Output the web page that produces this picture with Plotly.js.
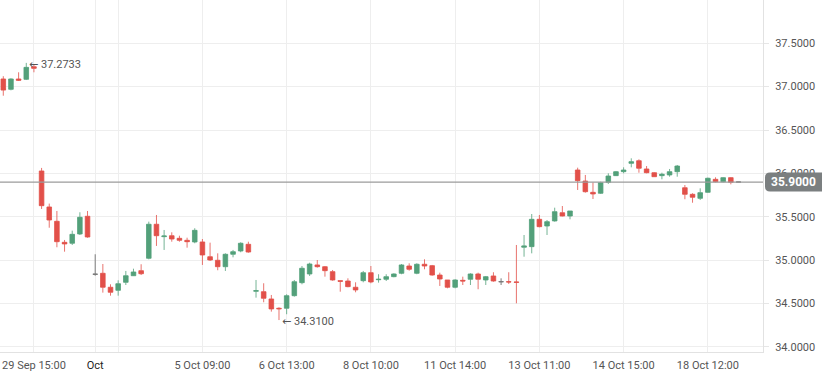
<!DOCTYPE html>
<html>
<head>
<meta charset="utf-8">
<script src="https://cdn.plot.ly/plotly-3.0.1.min.js"></script>
<style>
html,body{margin:0;padding:0;background:#fff;}
#chart{width:822px;height:374px;}
</style>
</head>
<body>
<div id="chart"></div>
<script>
// OHLC values, one per bar (bar index 0..96)
var opens = [37.088,36.969,37.088,37.084,37.229,36.028,35.613,35.448,35.206,35.195,
35.302,35.506,34.838,34.849,34.688,34.653,34.745,34.821,34.879,35.022,
35.414,35.271,35.282,35.252,35.229,35.210,35.210,35.040,34.999,34.925,
35.068,35.106,35.183,34.642,34.637,34.553,34.446,34.446,34.591,34.741,
34.841,34.945,34.925,34.868,34.764,34.760,34.688,34.764,34.856,34.775,
34.780,34.810,34.849,34.933,34.849,34.953,34.937,34.829,34.772,34.688,
34.768,34.780,34.841,34.772,34.818,34.752,34.752,34.749,35.149,35.156,
35.471,35.394,35.452,35.547,35.509,36.039,35.912,35.782,35.771,35.897,
35.974,36.020,36.116,36.146,36.051,36.008,35.974,35.982,36.020,35.835,
35.759,35.713,35.782,35.932,35.904,35.951,35.900];
var highs = [37.120,37.096,37.165,37.2733,37.249,36.063,35.652,35.567,35.233,35.340,
35.552,35.567,35.068,34.956,34.722,34.768,34.876,34.902,34.953,35.444,
35.521,35.348,35.321,35.282,35.259,35.368,35.244,35.202,35.079,35.079,
35.118,35.206,35.213,34.772,34.734,34.599,34.457,34.607,34.772,34.933,
34.971,35.002,34.933,34.887,34.764,34.791,34.745,34.876,34.933,34.838,
34.838,34.849,34.956,34.964,34.964,35.010,34.945,34.856,34.772,34.780,
34.810,34.849,34.856,34.818,34.861,34.791,34.861,35.175,35.290,35.532,
35.521,35.463,35.605,35.624,35.567,36.066,35.982,35.897,35.904,36.001,
36.028,36.070,36.174,36.162,36.085,36.013,36.008,36.051,36.097,35.866,
35.771,35.828,35.951,35.955,35.955,35.955,35.900];
var lows = [36.895,36.957,37.065,37.076,37.165,35.590,35.374,35.149,35.098,35.175,
35.290,35.259,34.821,34.626,34.591,34.591,34.714,34.818,34.829,35.010,
35.164,35.118,35.213,35.213,35.144,35.195,34.945,34.991,34.884,34.876,
35.033,35.091,35.086,34.568,34.515,34.407,34.310,34.377,34.580,34.722,
34.818,34.914,34.810,34.764,34.637,34.688,34.630,34.745,34.734,34.741,
34.760,34.803,34.838,34.879,34.838,34.895,34.821,34.703,34.676,34.676,
34.714,34.714,34.665,34.714,34.752,34.714,34.726,34.503,35.040,35.079,
35.379,35.290,35.444,35.505,35.471,35.809,35.778,35.705,35.763,35.878,
35.970,36.001,36.070,36.008,36.001,35.962,35.932,35.962,35.962,35.702,
35.662,35.694,35.778,35.897,35.897,35.874,35.895];
var closes = [36.960,37.088,37.073,37.222,37.211,35.628,35.463,35.213,35.187,35.298,
35.494,35.267,34.838,34.688,34.630,34.729,34.821,34.864,34.844,35.414,
35.282,35.279,35.244,35.229,35.213,35.344,35.060,35.002,34.925,35.068,
35.098,35.195,35.094,34.649,34.561,34.438,34.440,34.591,34.752,34.907,
34.956,34.925,34.879,34.772,34.757,34.695,34.657,34.856,34.749,34.780,
34.810,34.841,34.945,34.895,34.953,34.933,34.829,34.783,34.688,34.772,
34.760,34.841,34.780,34.810,34.760,34.752,34.749,34.745,35.164,35.471,
35.386,35.444,35.559,35.509,35.567,35.916,35.789,35.763,35.893,35.970,
36.020,36.039,36.135,36.059,36.008,35.962,35.990,36.020,36.085,35.759,
35.725,35.778,35.944,35.904,35.951,35.897,35.900];

// x-axis tick positions (bar index) and labels
var tickPositions = [4, 12, 15, 26, 37, 48, 59, 70, 81, 92];
var tickLabels = ['29 Sep 15:00', '<span style="color:#222">Oct</span>', '', '5 Oct 09:00', '6 Oct 13:00',
  '8 Oct 10:00', '11 Oct 14:00', '13 Oct 11:00', '14 Oct 15:00', '18 Oct 12:00'];

var GREEN = '#53a07a', RED = '#e2504a', GREY = '#7a7a7a';

var xs = opens.map(function(_, i){ return i; });
function pick(arr, flat){
  return arr.map(function(v, i){ return ((opens[i] === closes[i]) === flat) ? v : null; });
}

var mainTrace = {
  type: 'candlestick', x: xs,
  open: pick(opens, false), high: pick(highs, false), low: pick(lows, false), close: pick(closes, false),
  increasing: {line: {color: 'rgba(83,160,122,0.8)', width: 1}, fillcolor: GREEN},
  decreasing: {line: {color: 'rgba(226,80,74,0.8)', width: 1}, fillcolor: RED},
  hoverinfo: 'skip', showlegend: false
};
var flatTrace = {
  type: 'candlestick', x: xs,
  open: pick(opens, true), high: pick(highs, true), low: pick(lows, true), close: pick(closes, true),
  increasing: {line: {color: GREY, width: 1}, fillcolor: GREY},
  decreasing: {line: {color: GREY, width: 1}, fillcolor: GREY},
  hoverinfo: 'skip', showlegend: false
};

// extremes
var hiIdx = 0, loIdx = 0;
highs.forEach(function(v, i){ if (v > highs[hiIdx]) hiIdx = i; });
lows.forEach(function(v, i){ if (v < lows[loIdx]) loIdx = i; });
var lastClose = closes[closes.length - 1];
var ARROW = '<span style="font-family:DejaVu Sans">\u2190</span> ';

var layout = {
  width: 822, height: 374,
  margin: {l: 0, r: 59, t: 0, b: 22, pad: 0},
  paper_bgcolor: '#ffffff', plot_bgcolor: '#ffffff',
  font: {family: 'Roboto, "Open Sans", sans-serif', size: 11, color: '#555'},
  showlegend: false,
  boxgap: 0.4, boxgroupgap: 0,
  xaxis: {
    type: 'linear', range: [-0.43, 99.2],
    rangeslider: {visible: false},
    tickmode: 'array', tickvals: tickPositions, ticktext: tickLabels,
    showgrid: true, gridcolor: '#eeeeee', gridwidth: 1,
    showline: true, linecolor: '#e2e2e2', linewidth: 1,
    ticks: '', zeroline: false, ticklabelstandoff: 3,
    tickfont: {size: 11, color: '#555'}, fixedrange: true
  },
  yaxis: {
    side: 'right', range: [33.942, 37.998],
    tick0: 34, dtick: 0.5, tickformat: '.4f',
    showgrid: true, gridcolor: '#eeeeee', gridwidth: 1,
    showline: true, linecolor: '#e2e2e2', linewidth: 1,
    ticks: 'outside', ticklen: 5, tickcolor: '#e6e6e6', ticklabelstandoff: 4,
    zeroline: false, tickfont: {size: 11, color: '#555'}, fixedrange: true
  },
  shapes: [
    {type: 'line', xref: 'paper', x0: 0, x1: 1, yref: 'y', y0: lastClose, y1: lastClose,
     line: {color: '#9b9b9b', width: 1.3}, layer: 'above'},
    {type: 'path', xref: 'paper', yref: 'y', xsizemode: 'pixel', ysizemode: 'pixel',
     xanchor: 1, yanchor: lastClose,
     path: 'M 7,-9.5 L 59,-9.5 L 59,9.5 L 7,9.5 Q 2,9.5 2,4.5 L 2,-4.5 Q 2,-9.5 7,-9.5 Z',
     fillcolor: '#7b7f80', line: {width: 0}, layer: 'above'}
  ],
  annotations: [
    {xref: 'x', yref: 'y', x: hiIdx, y: highs[hiIdx], xanchor: 'left', yanchor: 'middle', xshift: 1, yshift: -2,
     text: ARROW + highs[hiIdx].toFixed(4), showarrow: false, font: {size: 11, color: '#555'}},
    {xref: 'x', yref: 'y', x: loIdx, y: lows[loIdx], xanchor: 'left', yanchor: 'middle', xshift: 1, yshift: -1,
     text: ARROW + lows[loIdx].toFixed(4), showarrow: false, font: {size: 11, color: '#555'}},
    {xref: 'paper', yref: 'y', x: 1, y: lastClose, xanchor: 'center', yanchor: 'middle', xshift: 30,
     text: lastClose.toFixed(4), showarrow: false, font: {size: 12, color: '#ffffff', weight: 'bold'}}
  ]
};

Plotly.newPlot('chart', [mainTrace, flatTrace], layout, {displayModeBar: false, staticPlot: true});
</script>
</body>
</html>
